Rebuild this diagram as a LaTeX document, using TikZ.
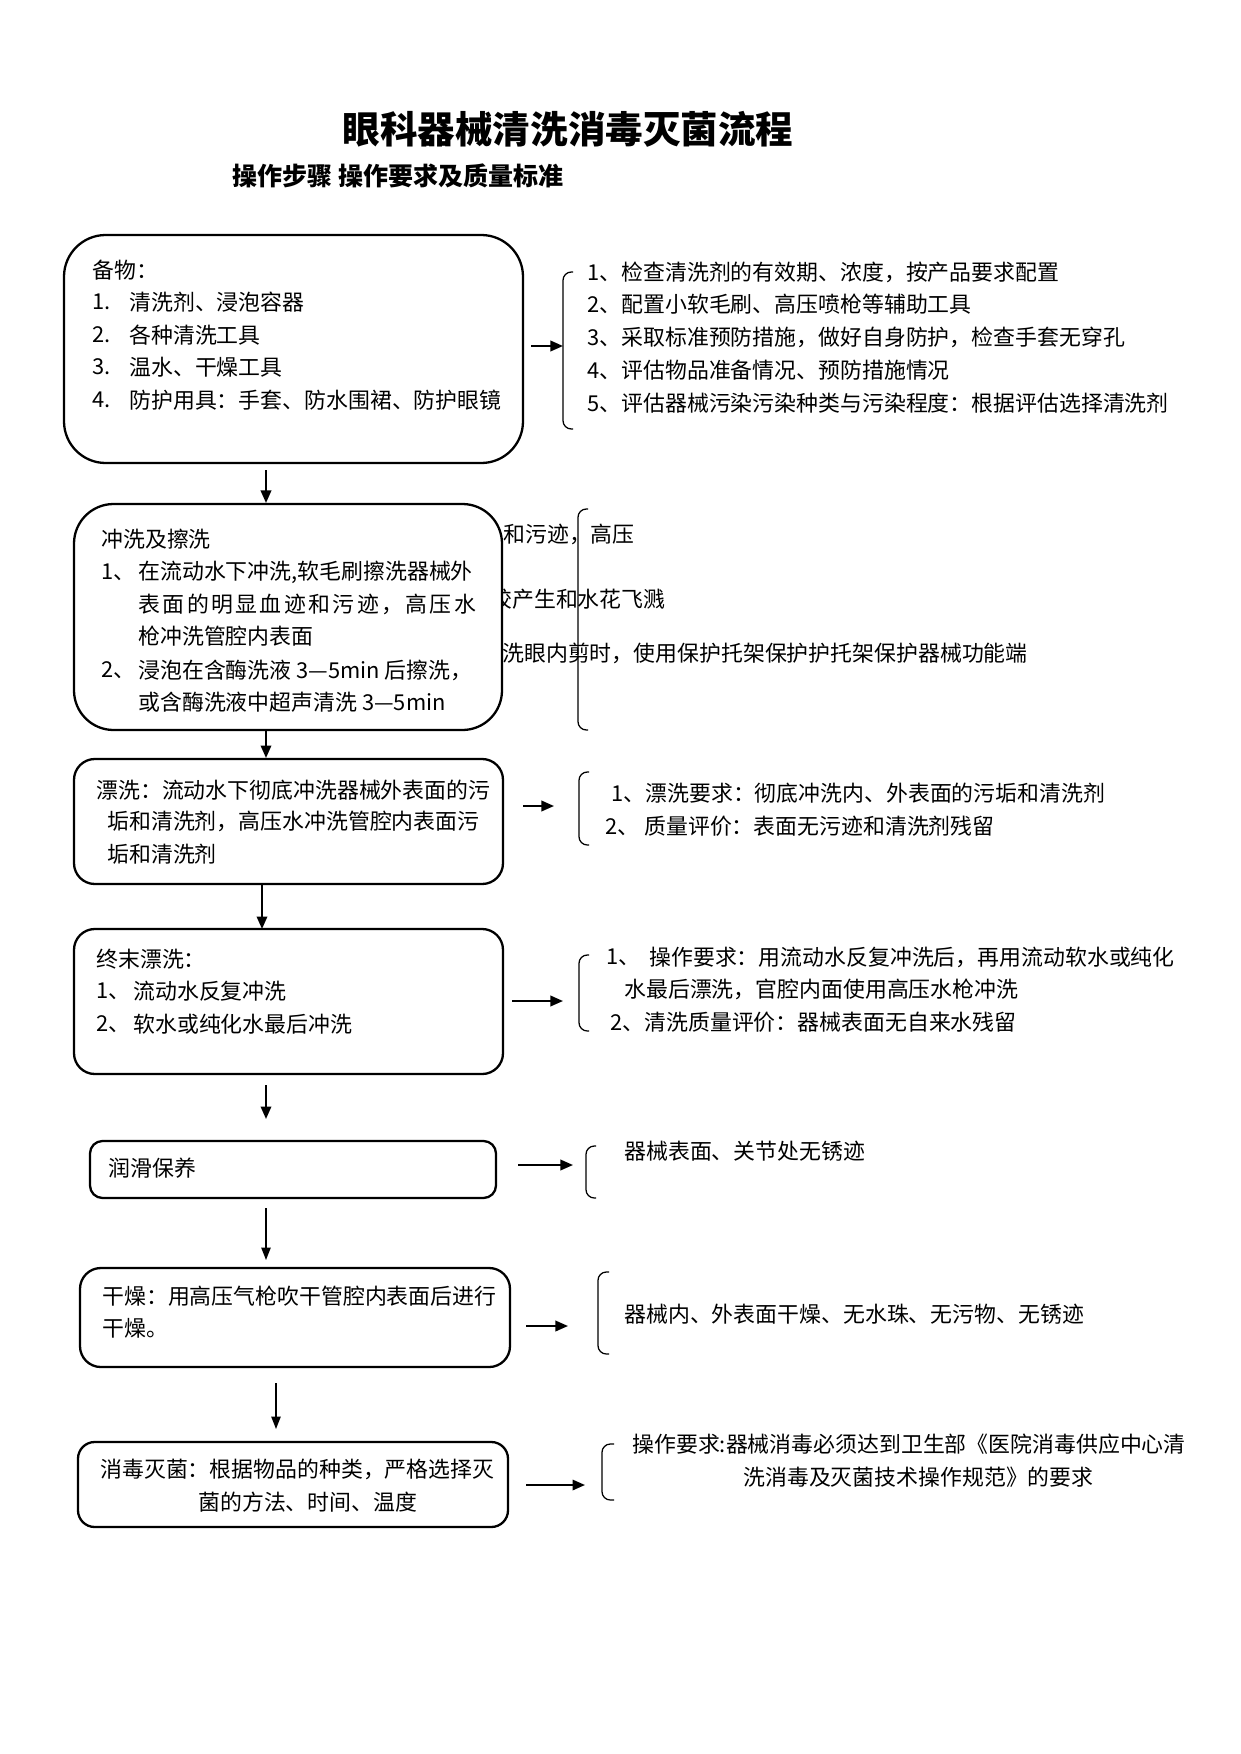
\documentclass[tikz,border=0pt]{standalone}
\usepackage{fontspec}
\setmainfont{Noto Sans CJK SC}
\newfontfamily\spacedcjk[LetterSpace=11]{Noto Sans CJK SC}
\usetikzlibrary{arrows.meta,fit}
\begin{document}
\begin{tikzpicture}[x=0.4797pt,y=-0.4797pt,
  box/.style={draw, line width=1.1pt, fill=white, inner sep=0pt},
  txt/.style={anchor=west, inner sep=0pt, font=\fontsize{10.5}{12}\selectfont},
  arr/.style={line width=1pt, -{Triangle[length=6pt,width=5pt]}},
  thinarr/.style={line width=0.7pt, -{Triangle[length=6pt,width=4.5pt]}},
  brak/.style={line width=0.6pt, rounded corners=4pt}]
\useasboundingbox (0,0) rectangle (1241,1754);

% title
\node[inner sep=0, font=\fontsize{18}{20}\selectfont\bfseries] (title) at (568,129) {眼科器械清洗消毒灭菌流程};
\node[anchor=west, inner sep=0, font=\fontsize{12}{14}\selectfont\bfseries] (sub) at (232,176) {操作步骤\ 操作要求及质量标准};

% ---------- box 1
\node[box, rounded corners=20pt, fit={(64,235) (523,463)}] (b1) {};
\node[txt] (t1a) at (92,270) {备物：};
\node[txt] (t1b) at (92,302) {1.};
\node[txt] (t1bb) at (129,302) {清洗剂、浸泡容器};
\node[txt] (t1c) at (92,335) {2.};
\node[txt] (t1cc) at (129,335) {各种清洗工具};
\node[txt] (t1d) at (92,367) {3.};
\node[txt] (t1dd) at (129,367) {温水、干燥工具};
\node[txt] (t1e) at (92,400) {4.};
\node[txt] (t1ee) at (129,400) {防护用具：手套、防水围裙、防护眼镜};

\draw[brak] (573,272) -- (563,272) -- (563,429) -- (573,429);
\node[txt] (r1a) at (587,272) {1、检查清洗剂的有效期、浓度，按产品要求配置};
\node[txt] (r1b) at (587,304) {2、配置小软毛刷、高压喷枪等辅助工具};
\node[txt] (r1c) at (587,337) {3、采取标准预防措施，做好自身防护，检查手套无穿孔};
\node[txt] (r1d) at (587,370) {4、评估物品准备情况、预防措施情况};
\node[txt] (r1e) at (587,403) {5、评估器械污染污染种类与污染程度：根据评估选择清洗剂};
\coordinate (a1s) at (531,346);
\coordinate (a1e) at (563,346);
\draw[arr] (a1s) -- (a1e);

% ---------- box 2 (covers part of the requirement text)
\draw[brak] (588,509) -- (578,509) -- (578,730) -- (588,730);
\node[txt] (r2a) at (503,534) {和污迹，高压};
\node[txt] (r2b) at (490,599) {胶产生和水花飞溅};
\node[txt] (r2c) at (502,653) {洗眼内剪时，使用保护托架保护护托架保护器械功能端};
\node[box, rounded corners=19pt, fit={(74,504) (502,730)}] (b2) {};
\node[txt] (t2a) at (101,539) {冲洗及擦洗};
\node[txt] (t2b) at (101,572) {1、};
\node[txt] (t2bb) at (138,572) {在流动水下冲洗,软毛刷擦洗器械外};
\node[txt, font=\spacedcjk\fontsize{10.5}{12}\selectfont] (t2c) at (138,604) {表面的明显血迹和污迹，高压水};
\node[txt] (t2d) at (138,636) {枪冲洗管腔内表面};
\node[txt] (t2e) at (101,670) {2、};
\node[txt] (t2ee) at (138,670) {浸泡在含酶洗液 3—5min 后擦洗，};
\node[txt] (t2f) at (138,702) {或含酶洗液中超声清洗 3—5min};

\coordinate (d1s) at (266,470);
\coordinate (d1e) at (266,503);
\draw[arr] (d1s) -- (d1e);

% ---------- box 3
\node[box, rounded corners=10pt, fit={(74,759) (503,884)}] (b3) {};
\node[txt] (t3a) at (96,790) {漂洗：流动水下彻底冲洗器械外表面的污};
\node[txt] (t3b) at (107,821) {垢和清洗剂，高压水冲洗管腔内表面污};
\node[txt] (t3c) at (107,854) {垢和清洗剂};
\draw[brak] (589,772) -- (579,772) -- (579,845) -- (589,845);
\node[txt] (r3a) at (611,793) {1、漂洗要求：彻底冲洗内、外表面的污垢和清洗剂};
\node[txt] (r3b) at (605,826) {2、\ 质量评价：表面无污迹和清洗剂残留};
\coordinate (a3s) at (523,806);
\coordinate (a3e) at (554,806);
\draw[arr] (a3s) -- (a3e);

\coordinate (d2s) at (266,730);
\coordinate (d2e) at (266,758);
\draw[arr] (d2s) -- (d2e);

% ---------- box 4
\node[box, rounded corners=10pt, fit={(74,929) (503,1074)}] (b4) {};
\node[txt] (t4a) at (96,959) {终末漂洗：};
\node[txt] (t4b) at (96,991) {1、};
\node[txt] (t4bb) at (133,991) {流动水反复冲洗};
\node[txt] (t4c) at (96,1024) {2、};
\node[txt] (t4cc) at (133,1024) {软水或纯化水最后冲洗};
\draw[brak] (589,955) -- (579,955) -- (579,1031) -- (589,1031);
\node[txt] (r4a) at (606,957) {1、};
\node[txt] (r4aa) at (649,957) {操作要求：用流动水反复冲洗后，再用流动软水或纯化};
\node[txt] (r4b) at (624,989) {水最后漂洗，官腔内面使用高压水枪冲洗};
\node[txt] (r4c) at (610,1022) {2、清洗质量评价：器械表面无自来水残留};
\coordinate (a4s) at (512,1001);
\coordinate (a4e) at (563,1001);
\draw[arr] (a4s) -- (a4e);

\coordinate (d3s) at (262,884);
\coordinate (d3e) at (262,929);
\draw[arr] (d3s) -- (d3e);

% ---------- box 5
\node[box, rounded corners=6pt, fit={(90,1141) (496,1198)}] (b5) {};
\node[txt] (t5a) at (108,1168) {润滑保养};
\draw[brak] (596,1146) -- (586,1146) -- (586,1198) -- (596,1198);
\node[txt] (r5a) at (624,1151) {器械表面、关节处无锈迹};
\coordinate (a5s) at (518,1165);
\coordinate (a5e) at (573,1165);
\draw[arr] (a5s) -- (a5e);

\coordinate (d4s) at (266,1085);
\coordinate (d4e) at (266,1119);
\draw[arr] (d4s) -- (d4e);

% ---------- box 6
\node[box, rounded corners=10pt, fit={(80,1268) (510,1367)}] (b6) {};
\node[txt] (t6a) at (102,1296) {干燥：用高压气枪吹干管腔内表面后进行};
\node[txt] (t6b) at (102,1328) {干燥。};
\draw[brak] (609,1272) -- (598,1272) -- (598,1354) -- (609,1354);
\node[txt] (r6a) at (624,1314) {器械内、外表面干燥、无水珠、无污物、无锈迹};
\coordinate (a6s) at (526,1326);
\coordinate (a6e) at (568,1326);
\draw[arr] (a6s) -- (a6e);

\coordinate (d5s) at (266,1208);
\coordinate (d5e) at (266,1260);
\draw[thinarr] (d5s) -- (d5e);

% ---------- box 7
\node[box, rounded corners=8pt, fit={(78,1442) (508,1527)}] (b7) {};
\node[txt] (t7a) at (100,1469) {消毒灭菌：根据物品的种类，严格选择灭};
\node[txt] (t7b) at (198,1502) {菌的方法、时间、温度};
\draw[brak] (614,1444) -- (602,1444) -- (602,1500) -- (614,1500);
\node[txt] (r7a) at (632,1444) {操作要求:器械消毒必须达到卫生部《医院消毒供应中心清};
\node[txt] (r7b) at (743,1477) {洗消毒及灭菌技术操作规范》的要求};
\coordinate (a7s) at (526,1485);
\coordinate (a7e) at (585,1485);
\draw[arr] (a7s) -- (a7e);

\coordinate (d6s) at (276,1383);
\coordinate (d6e) at (276,1429);
\draw[thinarr] (d6s) -- (d6e);
\end{tikzpicture}
\end{document}
